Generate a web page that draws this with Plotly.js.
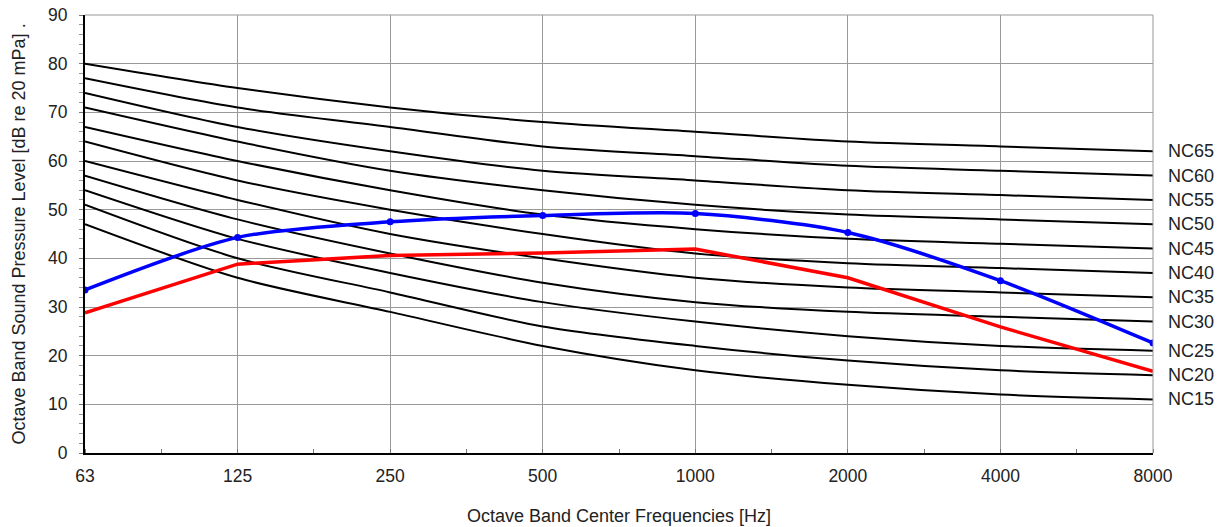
<!DOCTYPE html>
<html><head><meta charset="utf-8">
<script src="https://cdn.plot.ly/plotly-3.0.1.min.js"></script>
<style>html,body{margin:0;padding:0;background:#fff}#chart{width:1230px;height:527px}</style>
</head><body><div id="chart"></div>
<script>
const freqLabels = ["63","125","250","500","1000","2000","4000","8000"];
const ncNames = ["NC15","NC20","NC25","NC30","NC35","NC40","NC45","NC50","NC55","NC60","NC65"];
const NC15 = [47,36,29,22,17,14,12,11];
const NC20 = [51,40,33,26,22,19,17,16];
const NC25 = [54,44,37,31,27,24,22,21];
const NC30 = [57,48,41,35,31,29,28,27];
const NC35 = [60,52,45,40,36,34,33,32];
const NC40 = [64,56,50,45,41,39,38,37];
const NC45 = [67,60,54,49,46,44,43,42];
const NC50 = [71,64,58,54,51,49,48,47];
const NC55 = [74,67,62,58,56,54,53,52];
const NC60 = [77,71,67,63,61,59,58,57];
const NC65 = [80,75,71,68,66,64,63,62];
const blueSeries = [33.5,44.3,47.5,48.8,49.2,45.3,35.4,22.6];
const redSeries = [28.8,38.8,40.6,41.1,41.9,36.0,25.9,16.8];

const ncCurves = [NC15,NC20,NC25,NC30,NC35,NC40,NC45,NC50,NC55,NC60,NC65];
const xIdx = freqLabels.map((_, i) => i);
const FONT = 'Liberation Sans, Arial, sans-serif';
const traces = ncCurves.map((c, k) => ({
  x: xIdx, y: c, mode: 'lines', name: ncNames[k],
  line: {color: '#000', width: 2, shape: 'spline', smoothing: 0.8},
  hoverinfo: 'skip'
}));
traces.push({x: xIdx, y: redSeries, mode: 'lines', line: {color: '#ff0000', width: 3.5}});
traces.push({x: xIdx, y: blueSeries, mode: 'lines+markers', line: {color: '#0000ff', width: 3.5, shape: 'spline', smoothing: 0.8}, marker: {color: '#0000ff', size: 7}});

const annotations = ncCurves.map((c, k) => ({
  xref: 'paper', yref: 'y', x: 1, y: c[c.length-1], xanchor: 'left', yanchor: 'middle',
  xshift: 13, text: ncNames[k], showarrow: false,
  font: {family: FONT, size: 18, color: '#222'}
}));

const layout = {
  width: 1230, height: 527,
  margin: {l: 85, r: 77, t: 15, b: 74},
  paper_bgcolor: '#fff', plot_bgcolor: '#fff',
  showlegend: false,
  font: {family: FONT, size: 18, color: '#222'},
  xaxis: {
    range: [0, 7], tickvals: xIdx, ticktext: freqLabels, ticks: '',
    showgrid: true, gridcolor: '#999', gridwidth: 1,
    showline: true, linecolor: '#000', linewidth: 2, zeroline: false,
    minor: {ticks: 'inside', dtick: 0.5, tick0: 0, ticklen: 4, tickcolor: '#777', showgrid: false},
    ticklabelstandoff: 6,
    title: {text: 'Octave Band Center Frequencies [Hz]', font: {size: 18, color: '#222'}, standoff: 24},
    tickfont: {size: 17.5}, fixedrange: true
  },
  yaxis: {
    range: [0, 90], dtick: 10, ticks: 'outside', ticklen: 4, tickcolor: '#777',
    showgrid: true, gridcolor: '#999', gridwidth: 1,
    showline: true, linecolor: '#000', linewidth: 2, zeroline: false,
    minor: {ticks: 'outside', dtick: 2, ticklen: 4, tickcolor: '#999', showgrid: false},
    ticklabelstandoff: 8,
    title: {text: 'Octave Band Sound Pressure Level [dB re 20 mPa] .', font: {size: 18, color: '#222'}, standoff: 18},
    tickfont: {size: 17.5}, fixedrange: true
  },
  shapes: [
    {type: 'line', xref: 'paper', yref: 'paper', x0: 1, x1: 1, y0: 0, y1: 1, line: {color: '#999', width: 1}},
    {type: 'line', xref: 'paper', yref: 'paper', x0: 0, x1: 1, y0: 1, y1: 1, line: {color: '#999', width: 1}}
  ],
  annotations: annotations
};
Plotly.newPlot('chart', traces, layout, {displayModeBar: false, staticPlot: true});
</script></body></html>
